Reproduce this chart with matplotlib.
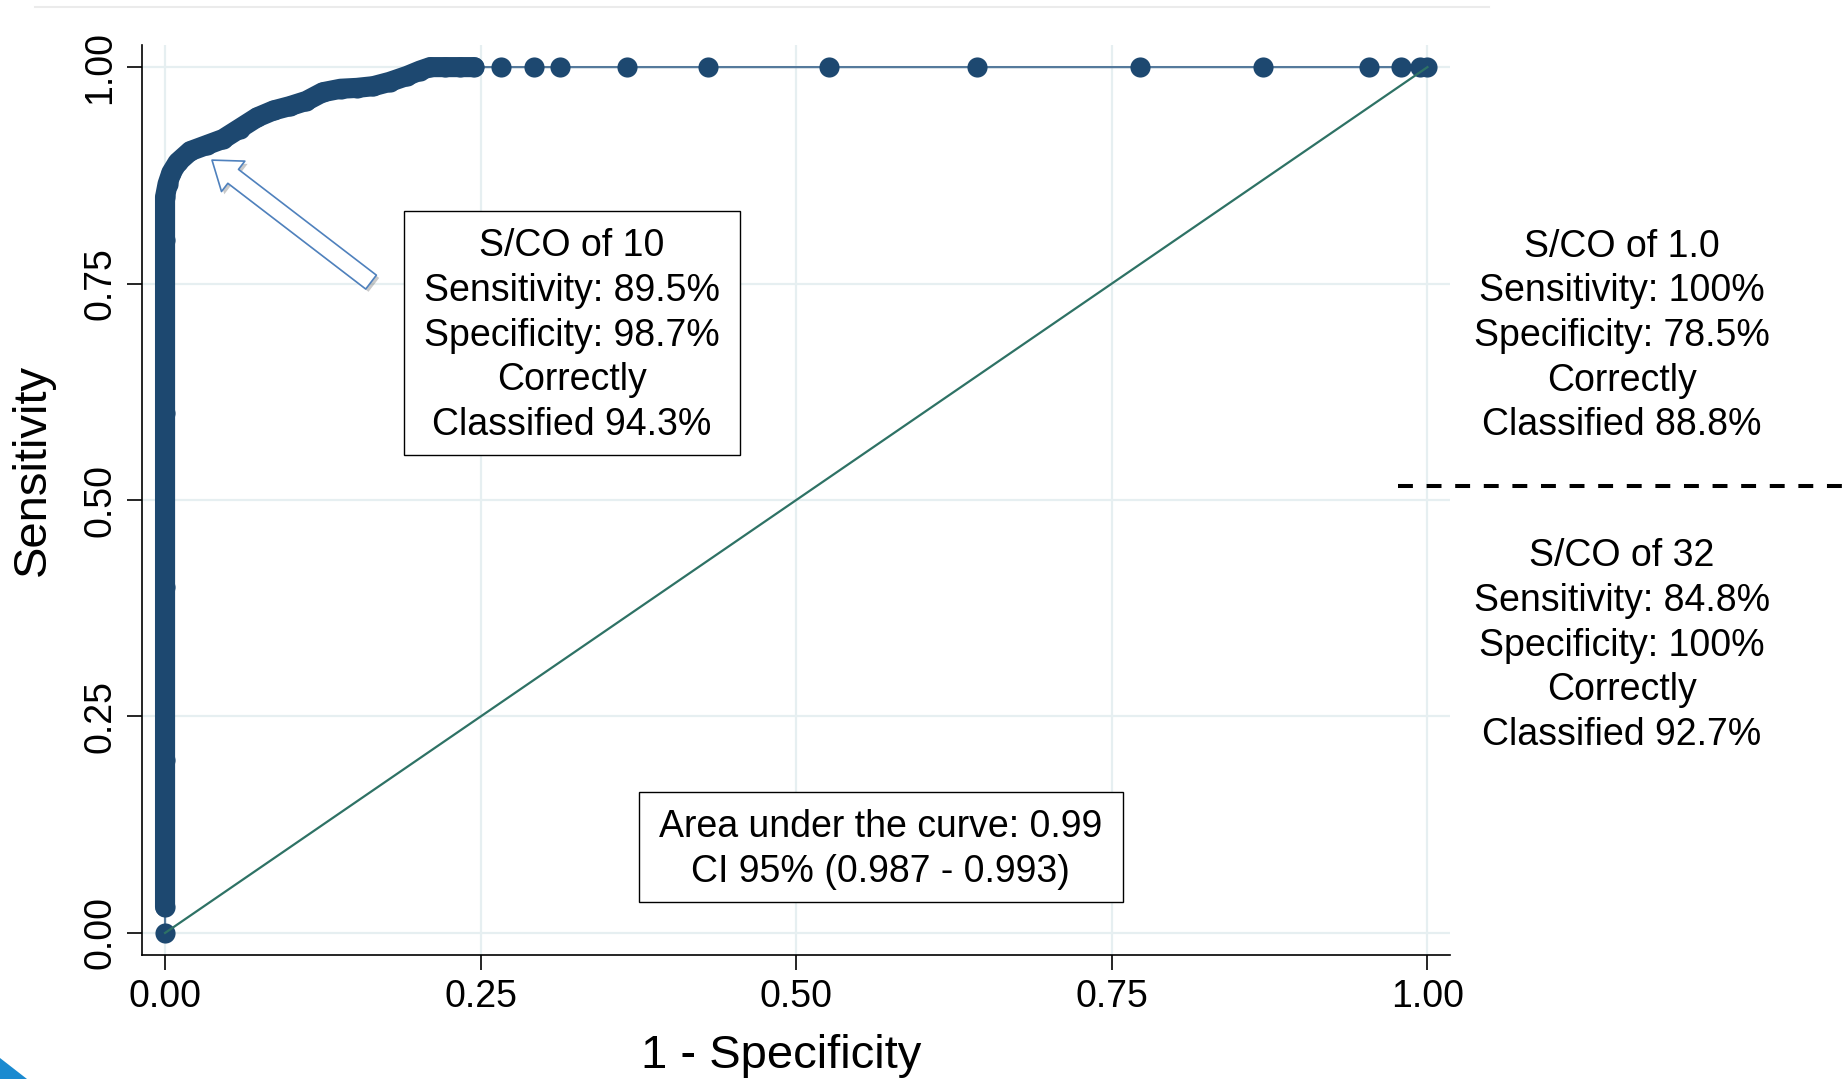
import matplotlib
matplotlib.use("Agg")
import matplotlib.pyplot as plt
from matplotlib.patches import Rectangle, Polygon, FancyArrowPatch
from matplotlib.lines import Line2D
import matplotlib.patheffects as pe
import matplotlib.transforms as mtransforms

plt.rcParams["font.family"] = ["Liberation Sans", "DejaVu Sans"]

# ROC curve: dense part (1 - specificity, sensitivity)
roc_x = [0.0, 0.0, 0.0, 0.0, 0.0, 0.0, 0.002, 0.005, 0.010, 0.020, 0.033,
         0.046, 0.059, 0.073, 0.086, 0.099, 0.112, 0.125, 0.139, 0.152,
         0.165, 0.178, 0.192, 0.202, 0.210, 0.222, 0.234, 0.245]
roc_y = [0.03, 0.20, 0.40, 0.60, 0.80, 0.85, 0.865, 0.878, 0.890, 0.903, 0.910,
         0.917, 0.929, 0.942, 0.950, 0.955, 0.961, 0.971, 0.975, 0.976,
         0.978, 0.983, 0.990, 0.996, 1.0, 1.0, 1.0, 1.0]
# sparse cut points on the plateau
tail_x = [0.266, 0.292, 0.313, 0.366, 0.430, 0.526, 0.643, 0.772, 0.870,
          0.954, 0.979, 0.994, 1.0]
tail_y = [1.0] * len(tail_x)
origin = (0.0, 0.0)

ticks = [0.0, 0.25, 0.5, 0.75, 1.0]
tick_labels = ["0.00", "0.25", "0.50", "0.75", "1.00"]

box_lines = ["S/CO of 10", "Sensitivity: 89.5%", "Specificity: 98.7%",
             "Correctly", "Classified 94.3%"]
auc_lines = ["Area under the curve: 0.99", "CI 95% (0.987 - 0.993)"]
right_top = ["S/CO of 1.0", "Sensitivity: 100%", "Specificity: 78.5%",
             "Correctly", "Classified 88.8%"]
right_bottom = ["S/CO of 32", "Sensitivity: 84.8%", "Specificity: 100%",
                "Correctly", "Classified 92.7%"]

navy = "#1d4870"
thin = "#557a9c"
diag = "#2e7265"
fs = 27
step_pt = 32.2  # line spacing in points

W, H = 1845, 1079
fig = plt.figure(figsize=(W / 100, H / 100), dpi=100)
ax = fig.add_axes([0.0770, 0.1145, 0.709, 0.844])
ax.set_xlim(-0.0182, 1.018)
ax.set_ylim(-0.026, 1.0258)

ax.grid(True, color="#e6eff1", lw=1.6, zorder=0)
ax.set_axisbelow(True)
for s in ["top", "right"]:
    ax.spines[s].set_visible(False)
for s in ["left", "bottom"]:
    ax.spines[s].set_linewidth(1.2)

ax.set_xticks(ticks)
ax.set_xticklabels(tick_labels, fontsize=fs)
ax.set_yticks(ticks)
ax.set_yticklabels(tick_labels, fontsize=fs, rotation=90, va="center")
ax.tick_params(axis="both", length=11, width=1.2, pad=6)

all_x = [origin[0]] + roc_x + tail_x
all_y = [origin[1]] + roc_y + tail_y
ax.plot(all_x, all_y, color=thin, lw=1.6, zorder=3)
ax.plot(roc_x, roc_y, color=navy, lw=14.5, solid_capstyle="round",
        solid_joinstyle="round", zorder=4)
ax.plot(all_x, all_y, ls="none", marker="o", ms=14.5, mew=0, color=navy,
        zorder=5)
ax.plot([0, 1], [0, 1], color=diag, lw=1.6, zorder=6)


def text_block(x, y, lines, trans, n_mid):
    for i, line in enumerate(lines):
        t = mtransforms.offset_copy(trans, fig=fig, y=-(i - n_mid) * step_pt,
                                    units="points")
        fig.text(x, y, line, transform=t, ha="center", va="center",
                 fontsize=fs, zorder=10)


# annotation boxes
ax.add_patch(Rectangle((0.189, 0.5515), 0.2667, 0.2825, fill=True,
                       facecolor="white", edgecolor="black", lw=1.0, zorder=7))
text_block(0.3224, 0.690, box_lines, ax.transData, 2)
ax.add_patch(Rectangle((0.3756, 0.0352), 0.3832, 0.1278, fill=True,
                       facecolor="white", edgecolor="black", lw=1.0, zorder=7))
text_block(0.567, 0.0960, auc_lines, ax.transData, 0.5)

# right-hand notes
text_block(0.8789, 1 - 336 / H, right_top, fig.transFigure, 2)
text_block(0.8789, 1 - 645.5 / H, right_bottom, fig.transFigure, 2)
dash = Line2D([1398 / W, 1.0], [1 - 486 / H] * 2, color="black", lw=2.9,
              dashes=(3.7, 3.4), transform=fig.transFigure)
fig.add_artist(dash)

# block arrow pointing to the S/CO 10 cut point
arrow = FancyArrowPatch((0.1632, 0.7517), (0.0372, 0.8926),
                        arrowstyle="simple,head_length=1.6,head_width=2.3,tail_width=1.05",
                        mutation_scale=12, facecolor="white", edgecolor="#4f81bd",
                        lw=1.2, shrinkA=0, shrinkB=0, zorder=8)
arrow.set_path_effects([pe.SimplePatchShadow(offset=(2, -2), alpha=0.3),
                        pe.Normal()])
ax.add_patch(arrow)

# axis titles
fig.text(33 / W, 1 - 469.5 / H, "Sensitivity", rotation=90, ha="center",
         va="center", fontsize=34)
fig.text(781 / W, 1 - 1056 / H, "1 - Specificity", ha="center",
         va="center", fontsize=34)

# slide decorations
fig.add_artist(Line2D([35 / W, 1489 / W], [1 - 7 / H] * 2, color="#ebebeb",
                      lw=1.5, transform=fig.transFigure))
fig.add_artist(Polygon([(0, 1 - 1058 / H), (0, 0), (27 / W, 0)], closed=True,
                       facecolor="#1a8ad0", edgecolor="none",
                       transform=fig.transFigure))

fig.savefig("out.png", dpi=100)
